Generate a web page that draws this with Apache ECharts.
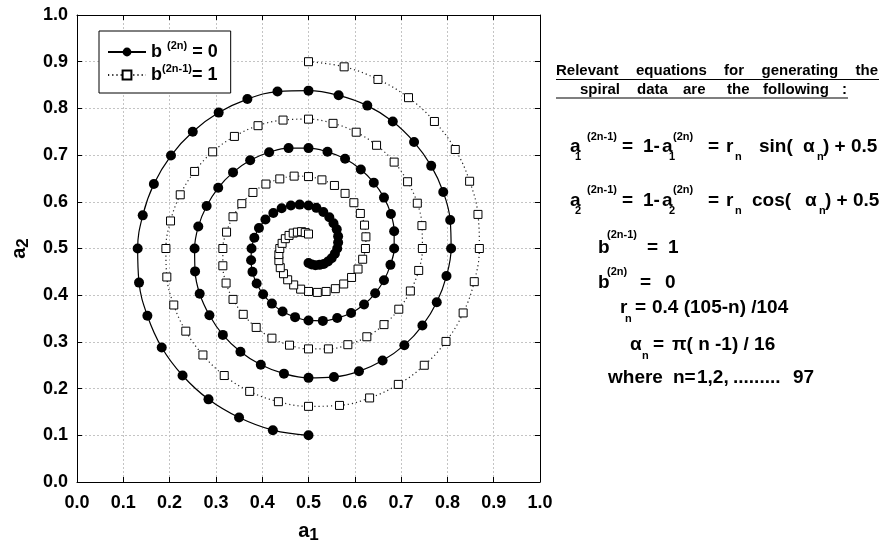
<!DOCTYPE html>
<html>
<head>
<meta charset="utf-8">
<script src="https://cdn.jsdelivr.net/npm/echarts@6/dist/echarts.min.js"></script>
<style>html,body{margin:0;padding:0;background:#fff}#c{width:881px;height:544px}</style>
</head>
<body>
<div id="c"></div>
<script>
// b(2n) = 0 series (filled circles)
const a1Filled = [.500,.423,.350,.284,.228,.183,.152,.134,.131,.142,.166,.203,.250,.306,.368,.433,
.500,.565,.627,.682,.728,.765,.791,.806,.808,.798,.777,.746,.707,.660,.609,.555,
.500,.447,.397,.353,.315,.286,.265,.255,.254,.262,.280,.305,.337,.374,.415,.457,
.500,.541,.579,.613,.641,.663,.678,.685,.685,.677,.663,.644,.620,.592,.562,.531,
.500,.471,.444,.421,.402,.388,.379,.376,.377,.383,.393,.407,.424,.442,.462,.481,
.500,.517,.532,.545,.554,.561,.564,.564,.562,.557,.550,.542,.533,.524,.515,.507,.500];
const a2Filled = [.100,.111,.138,.177,.228,.288,.356,.427,.500,.571,.638,.699,.750,.791,.820,.836,
.838,.828,.806,.772,.728,.677,.621,.561,.500,.441,.385,.335,.293,.260,.237,.225,
.223,.232,.251,.279,.315,.357,.403,.451,.500,.547,.591,.630,.663,.689,.706,.715,
.715,.707,.692,.669,.641,.609,.574,.537,.500,.465,.432,.404,.380,.362,.351,.345,
.346,.353,.365,.382,.402,.425,.450,.475,.500,.523,.544,.562,.576,.586,.592,.594,
.592,.587,.578,.567,.554,.541,.526,.513,.500,.489,.479,.472,.467,.465,.464,.466,.469];
// b(2n-1) = 1 series (open squares)
const a1Open = [.500,.577,.650,.716,.772,.817,.848,.866,.869,.858,.834,.797,.750,.694,.632,.567,
.500,.435,.373,.318,.272,.235,.209,.194,.192,.202,.223,.254,.293,.340,.391,.445,
.500,.553,.603,.647,.685,.714,.735,.745,.746,.738,.720,.695,.663,.626,.585,.543,
.500,.459,.421,.387,.359,.337,.322,.315,.315,.323,.337,.356,.380,.408,.438,.469,
.500,.529,.556,.579,.598,.612,.621,.624,.623,.617,.607,.593,.576,.558,.538,.519,
.500,.483,.468,.455,.446,.439,.436,.436,.438,.443,.450,.458,.467,.476,.485,.493,.500];
const a2Open = [.900,.889,.862,.823,.772,.712,.644,.573,.500,.429,.362,.301,.250,.209,.180,.164,
.162,.172,.194,.228,.272,.323,.379,.439,.500,.559,.615,.665,.707,.740,.763,.775,
.777,.768,.749,.721,.685,.643,.597,.549,.500,.453,.409,.370,.337,.311,.294,.285,
.285,.293,.308,.331,.359,.391,.426,.463,.500,.535,.568,.596,.620,.638,.649,.655,
.654,.647,.635,.618,.598,.575,.550,.525,.500,.477,.456,.438,.424,.414,.408,.406,
.408,.413,.422,.433,.446,.459,.474,.487,.500,.511,.521,.528,.533,.535,.536,.534,.531];
const axisMin = 0, axisMax = 1, axisStep = 0.1;
const seriesNames = ['b0', 'b1'];

const FONT = '"Liberation Sans", Arial, Helvetica, sans-serif';
const chart = echarts.init(document.getElementById('c'), null, {renderer: 'canvas'});

function T(x, y, text, size) {
  return {type: 'text', x: x, y: y, silent: true,
    style: {text: text, font: 'bold ' + size + 'px ' + FONT, fill: '#000',
      textAlign: 'left', textVerticalAlign: 'middle', align: 'left', verticalAlign: 'middle'}};
}
function L(x1, x2, y) {
  return {type: 'line', silent: true, shape: {x1: x1, y1: y, x2: x2, y2: y},
    style: {stroke: '#000', lineWidth: 1.2}};
}
const M = 19, S = 11, H = 15;
const g = [];
// heading
g.push(T(556, 71, 'Relevant', H), T(636, 71, 'equations', H), T(724, 71, 'for', H),
       T(761.5, 71, 'generating', H), T(855.5, 71, 'the', H), L(556, 879, 79.5));
g.push(T(580, 90, 'spiral', H), T(637, 90, 'data', H), T(683, 90, 'are', H),
       T(727, 90, 'the', H), T(763, 90, 'following', H), T(842, 90, ':', H), L(556, 848, 98));
// a1 line
(function(){ const yM=147, yP=137, yB=157;
  g.push(T(570,yM,'a',M),T(575,yB,'1',S),T(587,yP,'(2n-1)',S),T(622,yM,'=',M),T(643,yM,'1-',M),
    T(662,yM,'a',M),T(669,yB,'1',S),T(673,yP,'(2n)',S),T(708,yM,'=',M),T(726,yM,'r',M),
    T(735,yB,'n',S),T(759,yM,'sin(',M),T(803,yM,'α',M),T(817,yB,'n',S),T(823,yM,') + 0.5',M));
})();
// a2 line
(function(){ const yM=201, yP=190, yB=211;
  g.push(T(570,yM,'a',M),T(575,yB,'2',S),T(587,yP,'(2n-1)',S),T(622,yM,'=',M),T(643,yM,'1-',M),
    T(662,yM,'a',M),T(669,yB,'2',S),T(673,yP,'(2n)',S),T(708,yM,'=',M),T(726,yM,'r',M),
    T(735,yB,'n',S),T(752,yM,'cos(',M),T(805,yM,'α',M),T(819,yB,'n',S),T(825,yM,') + 0.5',M));
})();
g.push(T(598,248,'b',M),T(607,235,'(2n-1)',S),T(647,248,'=',M),T(668,248,'1',M));
g.push(T(598,283,'b',M),T(607,272,'(2n)',S),T(640,283,'=',M),T(665,283,'0',M));
g.push(T(620,308,'r',M),T(625,319,'n',S),T(635,308,'=',M),T(652,308,'0.4 (105-n) /104',M));
g.push(T(630,345,'α',M),T(642,356,'n',S),T(653,345,'=',M),T(672,345,'π( n -1) / 16',M));
g.push(T(608,378,'where',M),T(673,378,'n=',M),T(697,378,'1,2,',M),T(733,378,'.........',M),T(793,378,'97',M));

const tickFmt = v => v.toFixed(1);
const baseAxis = {
  type: 'value', min: axisMin, max: axisMax, interval: axisStep,
  axisLine: {show: true, onZero: false, lineStyle: {color: '#000', width: 1}},
  axisTick: {show: true, inside: true, length: 5, lineStyle: {color: '#000', width: 1}},
  splitLine: {show: false},
  axisLabel: {show: false}
};
const mainLabel = {show: true, formatter: tickFmt, color: '#000', fontWeight: 'bold', fontSize: 18, fontFamily: FONT};
const gridLine = {show: true, lineStyle: {color: '#c4c4c4', type: [2, 2], width: 1}};
const nameRich = {
  a: {fontSize: 20, fontWeight: 'bold', fontFamily: FONT, color: '#000', lineHeight: 26},
  i: {fontSize: 17, fontWeight: 'bold', fontFamily: FONT, color: '#000', lineHeight: 18, verticalAlign: 'bottom'}
};

const legendText = {
  b0: '{m|b }{s|(2n)}{m| = 0}',
  b1: '{m|b}{s|(2n-1)}{m|= 1}'
};

chart.setOption({
  animation: false,
  backgroundColor: '#fff',
  grid: {left: 77, right: 341, top: 15, bottom: 62, containLabel: false, outerBoundsMode: 'none'},
  xAxis: [
    Object.assign({}, baseAxis, {position: 'bottom', axisLabel: Object.assign({}, mainLabel, {margin: 12}),
      splitLine: gridLine,
      name: '{a|a}{i|1}', nameLocation: 'middle', nameGap: 36,
      nameTextStyle: {rich: nameRich}}),
    Object.assign({}, baseAxis, {position: 'top'})
  ],
  yAxis: [
    Object.assign({}, baseAxis, {position: 'left', axisLabel: Object.assign({}, mainLabel, {margin: 9}),
      splitLine: gridLine,
      name: '{a|a}{i|2}', nameLocation: 'middle', nameGap: 45, nameRotate: 90,
      nameTextStyle: {rich: nameRich}}),
    Object.assign({}, baseAxis, {position: 'right'})
  ],
  legend: {
    left: 99, top: 31, orient: 'vertical', selectedMode: false,
    padding: [9, 13, 9, 8], itemGap: 2, itemWidth: 38, itemHeight: 11,
    backgroundColor: '#fff', borderColor: '#000', borderWidth: 1,
    data: seriesNames,
    formatter: n => legendText[n],
    textStyle: {rich: {
      m: {fontSize: 18, fontWeight: 'bold', fontFamily: FONT, color: '#000', lineHeight: 24},
      s: {fontSize: 11, fontWeight: 'bold', fontFamily: FONT, color: '#000', verticalAlign: 'top'}
    }}
  },
  graphic: g,
  series: [
    {name: seriesNames[0], type: 'line', xAxisIndex: 0, yAxisIndex: 0,
     data: a1Filled.map((x, i) => [x, a2Filled[i]]),
     smooth: 0.4, symbol: 'circle', symbolSize: 10,
     itemStyle: {color: '#000'}, lineStyle: {color: '#000', width: 1.2, type: 'solid'}, z: 3},
    {name: seriesNames[1], type: 'line', xAxisIndex: 0, yAxisIndex: 0,
     data: a1Open.map((x, i) => [x, a2Open[i]]),
     smooth: 0.4, symbol: 'rect', symbolSize: 8,
     itemStyle: {color: '#fff', borderColor: '#000', borderWidth: 1},
     lineStyle: {color: '#222', width: 1.2, type: [1.2, 3]}, z: 3}
  ]
});
</script>
</body>
</html>
